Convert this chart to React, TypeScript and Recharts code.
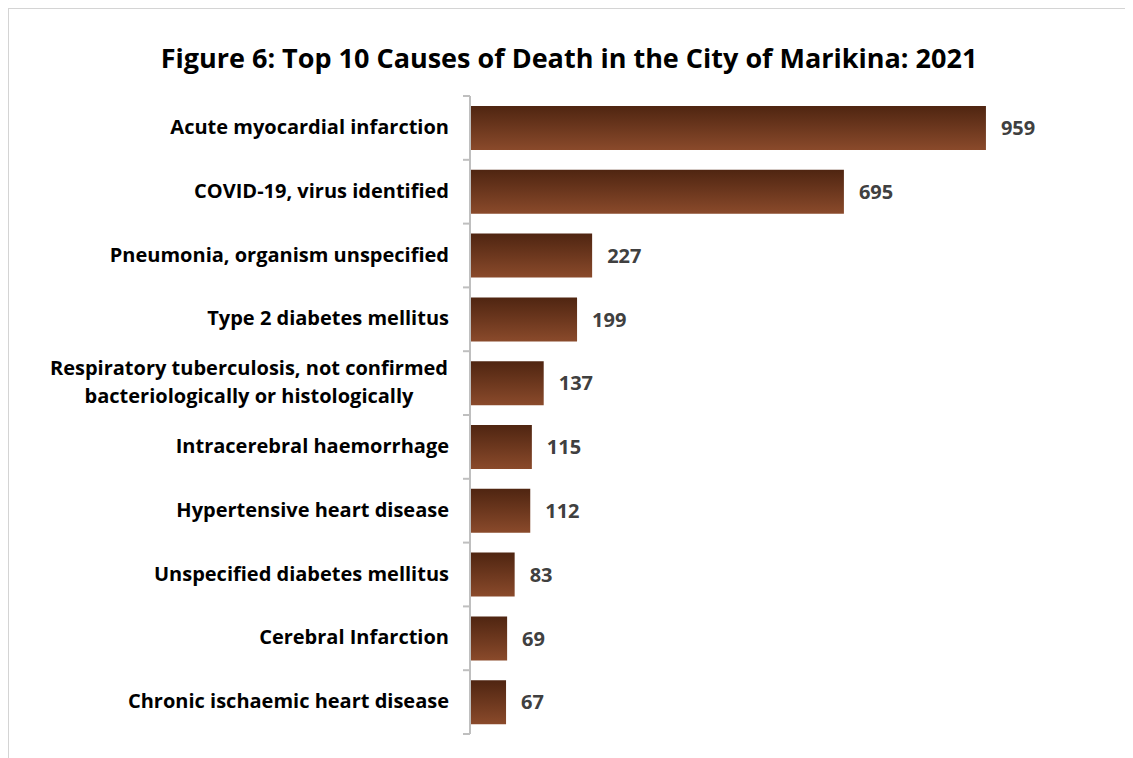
import React from 'react';
import { BarChart, Bar, XAxis, YAxis, LabelList } from 'recharts';

const causes = [
  'Acute myocardial infarction',
  'COVID-19, virus identified',
  'Pneumonia, organism unspecified',
  'Type 2 diabetes mellitus',
  'Respiratory tuberculosis, not confirmed|bacteriologically or histologically',
  'Intracerebral haemorrhage',
  'Hypertensive heart disease',
  'Unspecified diabetes mellitus',
  'Cerebral Infarction',
  'Chronic ischaemic heart disease',
];
const deaths = [959, 695, 227, 199, 137, 115, 112, 83, 69, 67];

const chartData = causes.map((cause, i) => ({ cause, deaths: deaths[i] }));

const FONT = '"Open Sans", Lato, sans-serif';
const AXIS_GREY = '#bfbfbf';
const MARGIN = 21;

const CauseTick = (props: any) => {
  const { x, y, payload, index, visibleTicksCount } = props;
  const half = payload && payload.offset ? payload.offset : 31.9;
  const ax = x + MARGIN; // where the axis line sits
  const lines = String(payload.value).split('|');
  // Excel-style tick marks sit between categories
  const marks = (
    <>
      <line x1={ax - 7} x2={ax} y1={y - half} y2={y - half} stroke={AXIS_GREY} strokeWidth={2} />
      {index === visibleTicksCount - 1 && (
        <line x1={ax - 7} x2={ax} y1={y + half} y2={y + half} stroke={AXIS_GREY} strokeWidth={2} />
      )}
    </>
  );
  if (lines.length > 1) {
    // wrapped label: lines centred on each other, block right-aligned
    const cx = x - 200;
    return (
      <g>
        {marks}
        <text x={cx} y={y} textAnchor="middle" fill="#000" fontFamily={FONT} fontWeight={700} fontSize={20}>
          {lines.map((line, i) => (
            <tspan key={i} x={cx} dy={i === 0 ? -8 : 28}>
              {line}
            </tspan>
          ))}
        </text>
      </g>
    );
  }
  return (
    <g>
      {marks}
      <text x={x} y={y} dy={6} textAnchor="end" fill="#000" fontFamily={FONT} fontWeight={700} fontSize={20}>
        {lines[0]}
      </text>
    </g>
  );
};

export default function App() {
  return (
    <div
      style={{
        position: 'relative',
        marginLeft: -1,
        marginTop: -1,
        width: 1140,
        height: 760,
        border: '2px solid #d4d4d4',
        background: '#fff',
        overflow: 'hidden',
      }}
    >
      <div
        style={{
          position: 'absolute',
          left: 0,
          top: 30,
          width: 1120,
          textAlign: 'center',
          fontFamily: FONT,
          fontWeight: 700,
          fontSize: 27,
          color: '#000',
        }}
      >
        Figure 6: Top 10 Causes of Death in the City of Marikina: 2021
      </div>
      <div style={{ position: 'absolute', left: 0, top: 0 }}>
        <BarChart
          width={1125}
          height={750}
          data={chartData}
          layout="vertical"
          margin={{ top: 87, right: 126, bottom: 25, left: 0 }}
        >
          <defs>
            <linearGradient id="barFill" x1="0" y1="0" x2="0" y2="1">
              <stop offset="0%" stopColor="#4f2511" />
              <stop offset="100%" stopColor="#8a4a2b" />
            </linearGradient>
          </defs>
          <XAxis type="number" domain={[0, 1000]} hide />
          <YAxis
            type="category"
            dataKey="cause"
            width={461}
            axisLine={{ stroke: AXIS_GREY, strokeWidth: 2 }}
            tickLine={false}
            tickSize={0}
            tickMargin={MARGIN}
            tick={<CauseTick />}
            interval={0}
          />
          <Bar
            dataKey="deaths"
            fill="url(#barFill)"
            barSize={44}
            isAnimationActive={false}
          >
            <LabelList
              dataKey="deaths"
              position="right"
              offset={15}
              fill="#404040"
              fontFamily={FONT}
              fontWeight={700}
              fontSize={20}
            />
          </Bar>
        </BarChart>
      </div>
    </div>
  );
}
